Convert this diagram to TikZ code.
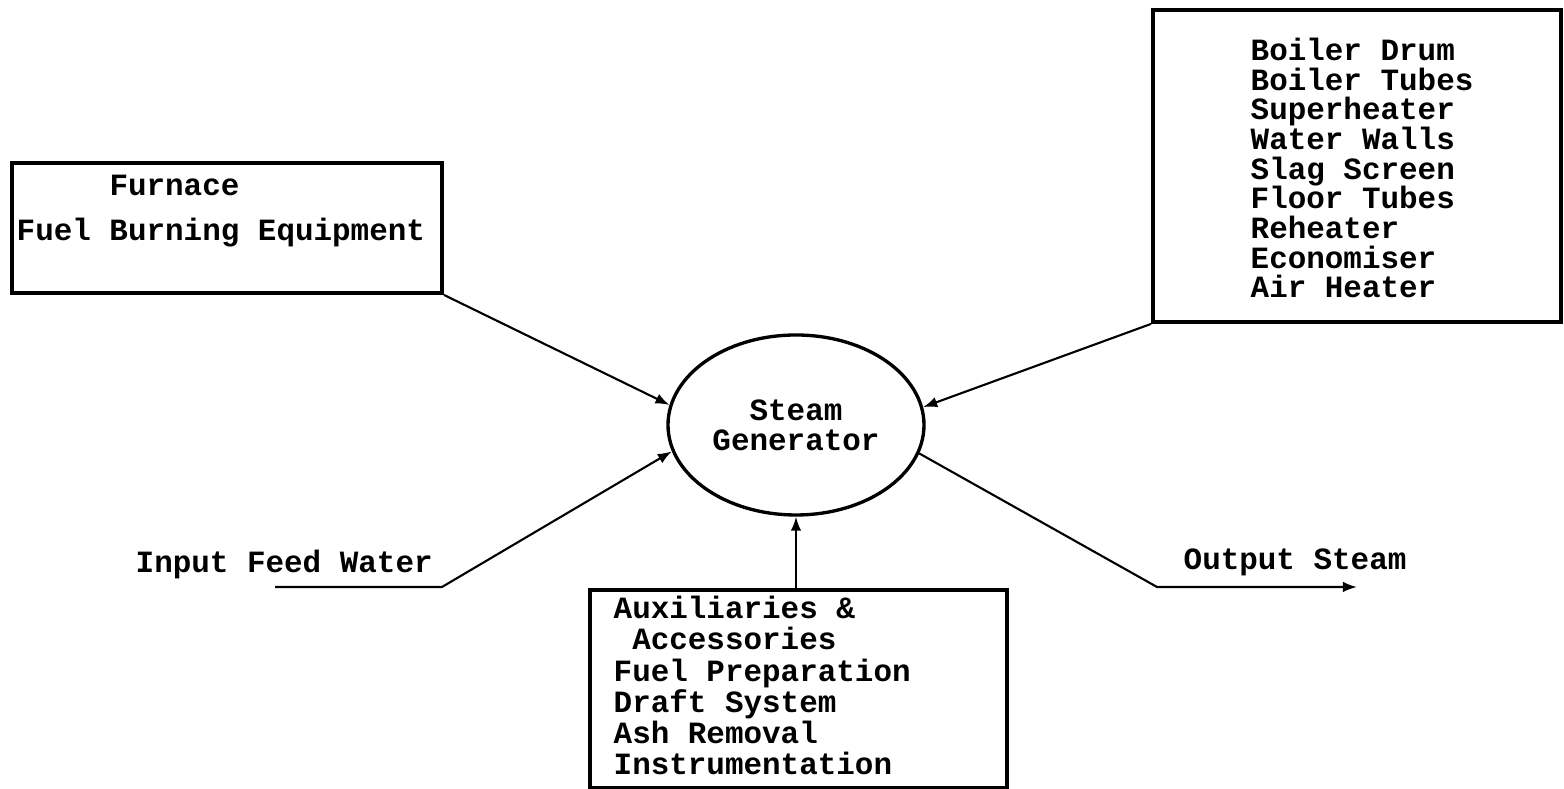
\documentclass[tikz,border=0pt]{standalone}
\usepackage{fontspec}
\setmonofont{Liberation Mono}
\usepackage{tikz}
\usetikzlibrary{arrows.meta, shapes.geometric}

\begin{document}
\begin{tikzpicture}[font=\ttfamily\bfseries,
    box/.style={draw, line width=1.1pt, minimum width=#1},
    conn/.style={line width=0.6pt},
    arr/.style={conn, -{Latex[length=4pt, width=3pt]}}]
      \useasboundingbox (0,0) rectangle (15.64,7.89);

      \node[box=4.30cm, minimum height=1.30cm]                          (furnace) at ( 2.27, 5.61) {};
      \node[box=4.08cm, minimum height=3.12cm]                          (comp)    at (13.57, 6.23) {};
      \node[box=4.17cm, minimum height=1.98cm]                          (aux)     at ( 7.985, 1.00) {};
      \node[draw, ellipse, line width=0.95pt, inner sep=0pt,
            minimum width=2.56cm, minimum height=1.80cm, align=center,
            font=\ttfamily\bfseries\fontsize{8.8}{8.5}\selectfont]      (sg)      at ( 7.96, 3.64) {Steam\\Generator};

      \node[anchor=base west, align=left, inner sep=0pt,
            font=\ttfamily\bfseries\fontsize{8.8}{12.8}\selectfont]     (furnacetxt) at ( 0.16, 5.48) {\phantom{Fuel }Furnace\\Fuel Burning Equipment};
      \node[anchor=base west, align=left, inner sep=0pt,
            font=\ttfamily\bfseries\fontsize{8.8}{8.45}\selectfont]     (comptxt)    at (12.50, 4.91) {Boiler Drum\\Boiler Tubes\\Superheater\\Water Walls\\Slag Screen\\Floor Tubes\\Reheater\\Economiser\\Air Heater};
      \node[anchor=base west, align=left, inner sep=0pt,
            font=\ttfamily\bfseries\fontsize{8.8}{8.9}\selectfont]      (auxtxt)     at ( 6.13, 0.14) {Auxiliaries \&\\\phantom{A}Accessories\\Fuel Preparation\\Draft System\\Ash Removal\\Instrumentation};
      \node[anchor=base west, inner sep=0pt,
            font=\ttfamily\bfseries\fontsize{8.8}{8.7}\selectfont]      (inlabel)    at ( 1.35, 2.16) {Input Feed Water};
      \node[anchor=base west, inner sep=0pt,
            font=\ttfamily\bfseries\fontsize{8.8}{8.7}\selectfont]      (outlabel)   at (11.83, 2.19) {Output Steam};

      \coordinate (inA)  at ( 2.75, 2.02);
      \coordinate (inB)  at ( 4.42, 2.02);
      \coordinate (outA) at (11.57, 2.02);
      \coordinate (outB) at (13.57, 2.02);

      \draw[arr] (furnace.south east) -- (sg.171);
      \draw[arr] (comp.south west) -- (sg.8);
      \draw[arr] (inA) -- (inB) -- (sg.192);
      \draw[arr] (sg.347) -- (outA) -- (outB);
      \draw[arr] (sg.south |- aux.north) -- (sg.south);
    \end{tikzpicture}
\end{document}
